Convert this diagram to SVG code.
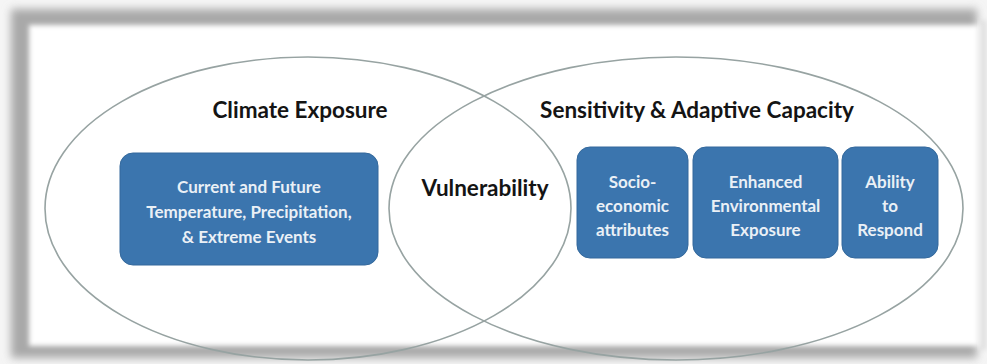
<svg xmlns="http://www.w3.org/2000/svg" width="987" height="364" viewBox="0 0 987 364">
<defs>
<filter id="blur" x="-5%" y="-10%" width="110%" height="120%"><feGaussianBlur stdDeviation="4"/></filter>
<filter id="soft" x="-5%" y="-10%" width="110%" height="120%"><feGaussianBlur stdDeviation="2.5"/></filter>
<style>
.ell{fill:none;stroke:#97a3a2;stroke-width:1.6}
.box{fill:#3b75ae;stroke:#34699c;stroke-width:1}
.bt{font-family:Lato,"Liberation Sans",sans-serif;font-weight:bold;font-size:17px;fill:#eaf0f6;text-anchor:middle}
.title{font-family:Lato,"Liberation Sans",sans-serif;font-weight:bold;font-size:22.5px;fill:#141414;text-anchor:middle}
</style>
</defs>
<rect x="0" y="0" width="987" height="364" fill="#f5f5f5"/>
<rect x="11" y="9" width="966" height="349" fill="#a9a9a9" filter="url(#blur)"/>
<rect x="978" y="20" width="9" height="330" fill="#e2e2e2" filter="url(#soft)"/>
<rect x="29" y="25" width="950" height="321" fill="#ffffff" filter="url(#soft)"/>
<g id="ellipses">
<ellipse id="climate-ellipse" class="ell" cx="308" cy="208.5" rx="263" ry="151.5"/>
<ellipse id="sensitivity-ellipse" class="ell" cx="676" cy="208.5" rx="287" ry="151.5"/>
</g>
<g id="climate-exposure">
<text class="title" x="300" y="118">Climate Exposure</text>
</g>
<g id="sensitivity">
<text class="title" x="697" y="118">Sensitivity &amp; Adaptive Capacity</text>
</g>
<g id="vulnerability">
<text class="title" x="485" y="196">Vulnerability</text>
</g>
<g id="current-future">
<rect class="box" x="120" y="153" width="258" height="112" rx="13"/>
<text class="bt" x="249" y="193">Current and Future</text>
<text class="bt" x="249" y="218">Temperature, Precipitation,</text>
<text class="bt" x="249" y="243">&amp; Extreme Events</text>
</g>
<g id="socio-economic">
<rect class="box" x="577" y="147" width="111" height="111" rx="13"/>
<text class="bt" x="632.5" y="188">Socio-</text>
<text class="bt" x="632.5" y="212">economic</text>
<text class="bt" x="632.5" y="236">attributes</text>
</g>
<g id="enhanced-exposure">
<rect class="box" x="693" y="147" width="145" height="111" rx="13"/>
<text class="bt" x="765.5" y="188">Enhanced</text>
<text class="bt" x="765.5" y="212">Environmental</text>
<text class="bt" x="765.5" y="236">Exposure</text>
</g>
<g id="ability-respond">
<rect class="box" x="842" y="147" width="96" height="111" rx="13"/>
<text class="bt" x="890" y="188">Ability</text>
<text class="bt" x="890" y="212">to</text>
<text class="bt" x="890" y="236">Respond</text>
</g>
</svg>
